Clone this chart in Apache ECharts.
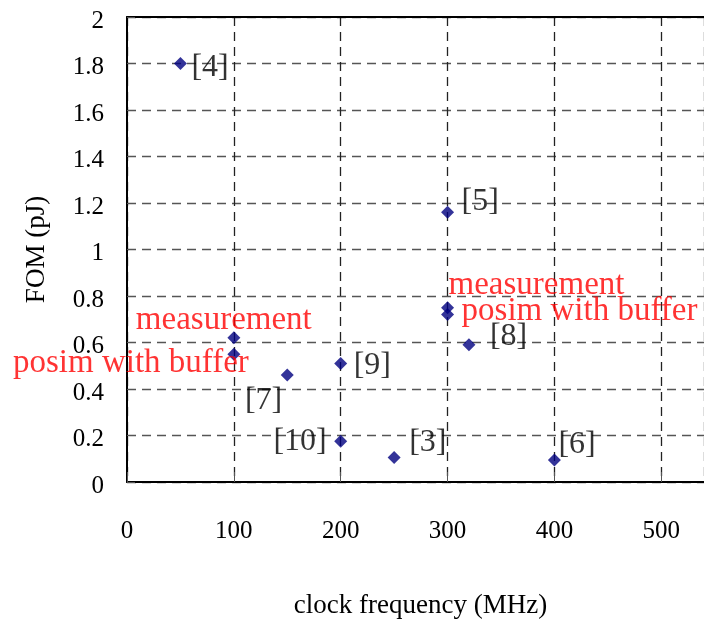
<!DOCTYPE html>
<html>
<head>
<meta charset="utf-8">
<script src="https://cdn.jsdelivr.net/npm/echarts@6/dist/echarts.min.js"></script>
<style>
  html, body { margin: 0; padding: 0; background: #fff; }
  #chart { width: 704px; height: 619px; }
</style>
</head>
<body>
<div id="chart"></div>
<script>
// Published designs: clock frequency (MHz) vs. figure of merit (pJ)
const refNames = ['[4]', '[5]', '[8]', '[9]', '[7]', '[10]', '[3]', '[6]'];
const refFreq  = [50, 300, 320, 200, 150, 200, 250, 400];
const refFom   = [1.8, 1.16, 0.59, 0.51, 0.46, 0.175, 0.105, 0.095];

// This work: measured and post-sim (with buffer) at two clock rates
const workNames = ['measurement', 'posim with buffer', 'measurement', 'posim with buffer'];
const workFreq  = [100, 100, 300, 300];
const workFom   = [0.62, 0.55, 0.75, 0.72];

// x axis runs a little past 500 and is cut off at the right edge
const xRange = [0, 540];
const xStep = 100;
const yRange = [0, 2];
const yStep = 0.2;

// label placement: [align, dx, dy] relative to the marker centre
const refLabelPlace = [
  ['left', 11, 4], ['left', 14, -11], ['left', 21, -8], ['left', 13, 2],
  ['right', -5, 26], ['right', -14, 0], ['left', 15, -15], ['left', 4, -15]
];
const workLabelPlace = [
  ['left', -98, -18], ['right', 15, 9], ['left', 1, -22], ['left', 14, -3]
];

const FONT = '"Liberation Serif", "DejaVu Serif", serif';
const MARK = '#000080';

function buildData(names, xs, ys, place, color, size) {
  return names.map((n, i) => ({
    name: n,
    value: [xs[i], ys[i]],
    label: {
      show: true,
      formatter: n,
      position: 'inside',
      align: place[i][0],
      verticalAlign: 'middle',
      offset: [place[i][1], place[i][2]],
      color: color,
      fontFamily: FONT,
      fontSize: size
    }
  }));
}

const chart = echarts.init(document.getElementById('chart'), null, { renderer: 'canvas' });

chart.setOption({
  animation: false,
  backgroundColor: '#fff',
  grid: { left: 127, top: 17, bottom: 137, right: 0, outerBoundsMode: 'none', containLabel: false },
  xAxis: [
    {
      type: 'value',
      position: 'bottom',
      min: xRange[0], max: xRange[1], interval: xStep,
      axisLine: { show: true, onZero: false, lineStyle: { color: '#000', width: 2 } },
      axisTick: { show: true, inside: true, length: 10, lineStyle: { color: '#555', width: 1 } },
      axisLabel: { margin: 37, color: '#000', fontFamily: FONT, fontSize: 25, showMaxLabel: false,
                   formatter: v => (v % xStep === 0 ? String(v) : '') },
      splitLine: { show: true, lineStyle: { color: '#222', type: [9, 6], width: 1.3 } },
      name: 'clock frequency (MHz)',
      nameLocation: 'middle',
      nameGap: 110,
      nameTextStyle: { color: '#000', fontFamily: FONT, fontSize: 27, padding: [0, 0, 0, 10] }
    },
    {
      // top frame line of the plot area
      type: 'value',
      position: 'top',
      min: xRange[0], max: xRange[1], interval: xStep,
      axisLine: { show: true, onZero: false, lineStyle: { color: '#000', width: 2 } },
      axisTick: { show: false },
      axisLabel: { show: false },
      splitLine: { show: false }
    }
  ],
  yAxis: {
    type: 'value',
    min: yRange[0], max: yRange[1], interval: yStep,
    axisLine: { show: true, onZero: false, lineStyle: { color: '#000', width: 2 } },
    axisTick: { show: true, inside: true, length: 8, lineStyle: { color: '#555', width: 1 } },
    axisLabel: {
      margin: 23,
      formatter: v => '{t|' + v + '}',
      rich: { t: { color: '#000', fontFamily: FONT, fontSize: 25, padding: [8, 0, 0, 0] } }
    },
    splitLine: { show: true, lineStyle: { color: '#555', type: [9, 6], width: 1.3 } },
    name: 'FOM (pJ)',
    nameLocation: 'middle',
    nameGap: 77,
    nameRotate: 90,
    nameTextStyle: { color: '#000', fontFamily: FONT, fontSize: 27 }
  },
  series: [
    {
      type: 'scatter',
      xAxisIndex: 0,
      symbol: 'diamond',
      symbolSize: 13,
      itemStyle: { color: MARK },
      data: buildData(refNames, refFreq, refFom, refLabelPlace, '#000', 32),
      z: 3
    },
    {
      type: 'scatter',
      xAxisIndex: 0,
      symbol: 'diamond',
      symbolSize: 13,
      itemStyle: { color: MARK },
      data: buildData(workNames, workFreq, workFom, workLabelPlace, '#ff0000', 33),
      z: 3
    }
  ]
});
</script>
</body>
</html>
